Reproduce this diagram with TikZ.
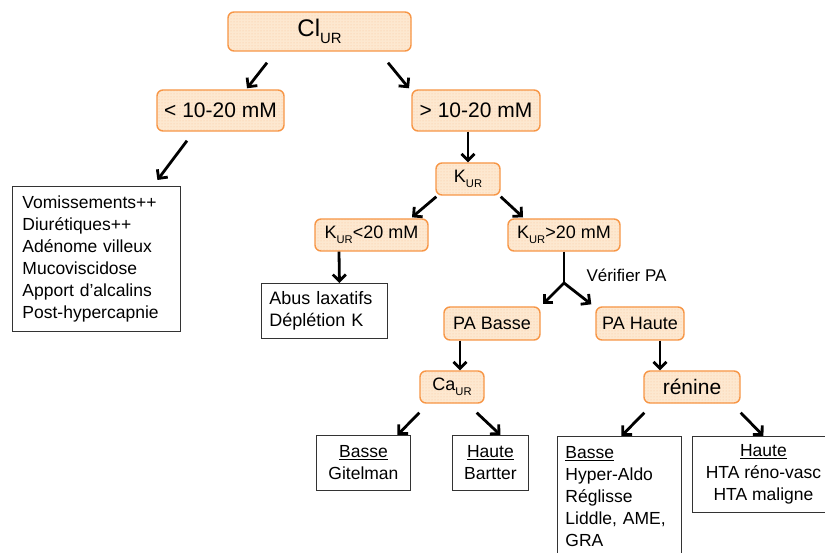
\documentclass[tikz,border=0pt]{standalone}
\usepackage{fontspec}
\setmainfont{Liberation Sans}
\usetikzlibrary{arrows.meta,calc,patterns}
\definecolor{obord}{RGB}{247,150,70}
\definecolor{ofill}{RGB}{253,232,208}
\newcommand\lowUR{\raisebox{-0.28em}{\scalebox{0.62}{UR}}}
\begin{document}
\begin{tikzpicture}[x=1pt,y=-1pt,
  obox/.style={draw=obord, line width=1.4pt, rounded corners=6pt,
    preaction={fill=ofill}, preaction={pattern=dots, pattern color=obord!55},
    inner sep=0pt, font=\fontsize{18}{21}\selectfont},
  wbox/.style={draw=black!80, line width=0.9pt, inner xsep=8pt, inner ysep=5pt,
    font=\fontsize{17.5}{22}\selectfont},
  arr/.style={line width=2.8pt, -{Straight Barb[length=6.5pt,width=13pt]}},
]
\useasboundingbox (0,0) rectangle (825,553);
\clip (0,0) rectangle (825,553);
\fill[white] (0,0) rectangle (825,553);

% orange boxes
\node[obox, minimum width=183pt, minimum height=39pt, font=\fontsize{24}{26}\selectfont] (CI) at (319.5,31.5) {Cl\lowUR};
\node[obox, minimum width=127pt, minimum height=41pt, font=\fontsize{21}{24}\selectfont] (lt) at (220.5,110.5) {< 10-20 mM};
\node[obox, minimum width=128pt, minimum height=41pt, font=\fontsize{21}{24}\selectfont] (gt) at (476,110.5) {> 10-20 mM};
\node[obox, minimum width=64pt, minimum height=32pt] (K) at (468,179) {K\lowUR};
\node[obox, minimum width=113pt, minimum height=32pt] (Klt) at (371.5,235) {K\lowUR<20 mM};
\node[obox, minimum width=112pt, minimum height=32pt] (Kgt) at (564,235) {K\lowUR>20 mM};
\node[obox, minimum width=96pt, minimum height=33pt] (PAB) at (492,323.5) {PA Basse};
\node[obox, minimum width=88pt, minimum height=33pt] (PAH) at (640,323.5) {PA Haute};
\node[obox, minimum width=64pt, minimum height=32pt] (Ca) at (452,387) {Ca\lowUR};
\node[obox, minimum width=96pt, minimum height=32pt, font=\fontsize{21}{24}\selectfont] (ren) at (692,387) {rénine};

% white boxes
\node[wbox, anchor=north west, text width=148pt, inner xsep=10pt, minimum height=145pt, align=left] (lst) at (12,186)
  {Vomissements++\\Diurétiques++\\Adénome villeux\\Mucoviscidose\\Apport d’alcalins\\Post-hypercapnie};
\node[wbox, anchor=north west, text width=110pt, minimum height=55pt, align=left, font=\fontsize{18}{22}\selectfont] (abus) at (261,283)
  {Abus laxatifs\\Déplétion K};
\node[wbox, anchor=north west, minimum width=94pt, minimum height=55pt, align=center] (git) at (316,435)
  {\underline{Basse}\\Gitelman};
\node[wbox, anchor=north west, minimum width=76pt, minimum height=55pt, align=center] (bart) at (452,435)
  {\underline{Haute}\\Bartter};
\node[wbox, anchor=north west, text width=108pt, minimum height=121pt, align=left, font=\fontsize{17.5}{22}\selectfont] (hyp) at (557,436)
  {\underline{Basse}\\Hyper-Aldo\\Réglisse\\Liddle, AME,\\GRA};
\draw[draw=black!80, line width=0.9pt] (hyp.south west) -- ($(hyp.south west)+(0,20)$);
\draw[draw=black!80, line width=0.9pt] (hyp.south east) -- ($(hyp.south east)+(0,20)$);
\node[wbox, anchor=north west, minimum width=142pt, minimum height=76pt, align=center, inner xsep=2pt] (hta) at (692,436)
  {\underline{Haute}\\HTA réno-vasc\\HTA maligne};

\node[anchor=west, font=\fontsize{17}{20}\selectfont] (ver) at (583,275) {Vérifier PA};
\coordinate (J) at (564,283);

% connectors
\draw[arr] ($(CI.south)+(-52.5,11)$) -- ($(lt.north)+(26.5,-1)$);
\draw[arr] ($(CI.south)+(68.5,11)$) -- ($(gt.north)+(-67,-1)$);
\draw[arr] ($(lt.south)+(-33.5,9)$) -- ($(lst.north)+(61,-6)$);
\draw[arr] ($(gt.south)+(-8,0)$) -- (K.north);
\draw[arr] ($(K.south west)+(1,1)$) -- ($(Klt.north)+(40.5,-1)$);
\draw[arr] ($(K.south east)+(0,1)$) -- ($(Kgt.north)+(-41,-1)$);
\draw[arr] ($(Klt.south)+(-32.5,0)$) -- ($(abus.north)+(15,0)$);
\draw[line width=2.8pt] (Kgt.south) -- (J);
\draw[arr] (J) -- ($(PAB.north east)+(2,-2)$);
\draw[arr] (J) -- ($(PAH.north west)+(-4,-2)$);
\draw[arr] ($(PAB.south)+(-32,0)$) -- ($(Ca.north)+(8,0)$);
\draw[arr] ($(PAH.south)+(20,0)$) -- ($(ren.north)+(-32,0)$);
\draw[arr] ($(Ca.south west)+(0,9)$) -- ($(git.north)+(34,0)$);
\draw[arr] ($(Ca.south east)+(-8,9)$) -- ($(bart.north)+(10,0)$);
\draw[arr] ($(ren.south west)+(1,9)$) -- ($(hyp.north)+(2,0)$);
\draw[arr] ($(ren.south east)+(0,9)$) -- (hta.north);
\end{tikzpicture}
\end{document}
